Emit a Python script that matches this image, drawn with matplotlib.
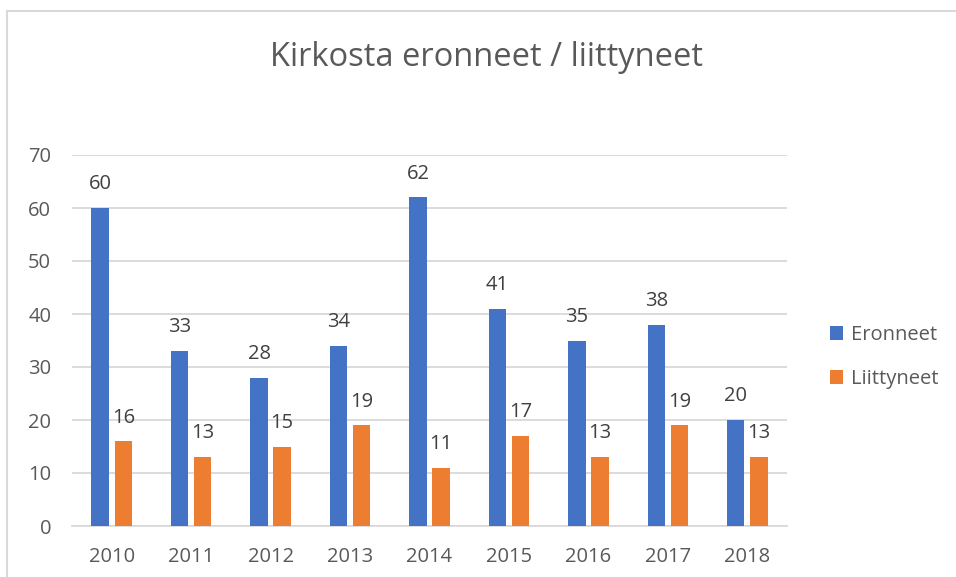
import matplotlib
matplotlib.use("Agg")
import matplotlib.pyplot as plt
from matplotlib.lines import Line2D
import numpy as np

vuodet = ["2010", "2011", "2012", "2013", "2014", "2015", "2016", "2017", "2018"]
eronneet = [60, 33, 28, 34, 62, 41, 35, 38, 20]
liittyneet = [16, 13, 15, 19, 11, 17, 13, 19, 13]

plt.rcParams['font.family'] = ['Open Sans', 'DejaVu Sans']

sininen = "#4472C4"
oranssi = "#ED7D31"
harmaa = "#595959"

fig = plt.figure(figsize=(9.56, 5.77), dpi=100)
ax = fig.add_axes([72/956, 1 - 526/577, (787 - 72)/956, (526 - 155)/577])

x = np.arange(len(vuodet))
lev = 0.22
b1 = ax.bar(x - 0.145, eronneet, lev, color=sininen, label="Eronneet", zorder=3)
b2 = ax.bar(x + 0.145, liittyneet, lev, color=oranssi, label="Liittyneet", zorder=3)

for rect, v in zip(b1, eronneet):
    ax.annotate(str(v), (rect.get_x() + rect.get_width()/2, v), xytext=(0, 17),
                textcoords="offset points", ha="center", va="center", fontsize=14.5, color="#404040")
for rect, v in zip(b2, liittyneet):
    ax.annotate(str(v), (rect.get_x() + rect.get_width()/2, v), xytext=(0, 17),
                textcoords="offset points", ha="center", va="center", fontsize=14.5, color="#404040")

ax.set_xlim(-0.5, len(vuodet) - 0.5)
ax.set_ylim(0, 70)
ax.set_yticks(range(0, 71, 10))
ax.set_xticks(x)
ax.set_xticklabels(vuodet)
ax.yaxis.grid(True, color="#d9d9d9", linewidth=1.3, zorder=0)
ax.set_axisbelow(True)
for s in ["top", "right", "left"]:
    ax.spines[s].set_visible(False)
ax.spines["bottom"].set_color("#d9d9d9")
ax.spines["bottom"].set_linewidth(1.3)
ax.tick_params(length=0, labelsize=14.5, colors=harmaa, pad=15)
ax.tick_params(axis="y", pad=15)

fig.text(487/956, 1 - 58/577, "Kirkosta eronneet / liittyneet", ha="center", va="center",
         fontsize=23.5, color=harmaa)

fig.legend(handles=[b1, b2], loc="center left", bbox_to_anchor=(812/956, 1 - 357/577),
           frameon=False, fontsize=14.5, labelcolor=harmaa, handlelength=0.65, handleheight=0.65,
           handletextpad=0.4, labelspacing=1.2)

# kehys
fig.add_artist(Line2D([7/956, 7/956], [0, 1 - 11/577], transform=fig.transFigure, color="#d9d9d9", linewidth=1.5))
fig.add_artist(Line2D([7/956, 1], [1 - 11/577, 1 - 11/577], transform=fig.transFigure, color="#d9d9d9", linewidth=1.5))

fig.savefig("out.png", dpi=100)
